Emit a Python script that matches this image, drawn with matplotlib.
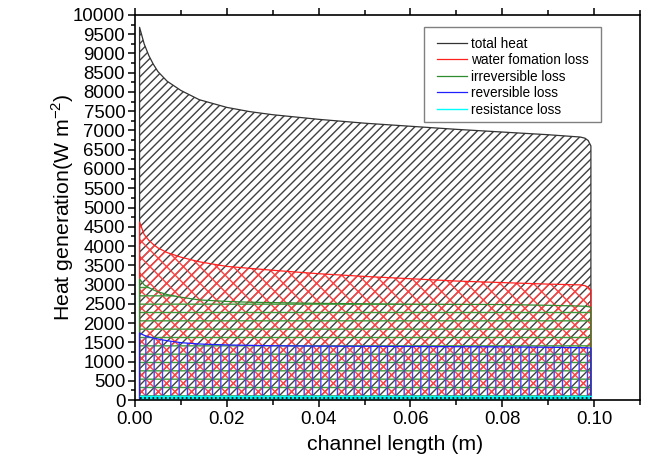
import numpy as np
import matplotlib
matplotlib.use("Agg")
import matplotlib.pyplot as plt
from matplotlib.patches import Rectangle
from matplotlib.ticker import MultipleLocator, FormatStrFormatter

plt.rcParams['font.family'] = ['Liberation Sans', 'DejaVu Sans']
plt.rcParams['mathtext.fontset'] = 'custom'
plt.rcParams['mathtext.rm'] = 'Liberation Sans'
plt.rcParams['hatch.linewidth'] = 1.0

# heat generation along the channel (W m-2)
x_pos = [0.001, 0.002, 0.003, 0.004, 0.005, 0.007, 0.010, 0.014, 0.020, 0.025, 0.030,
         0.040, 0.050, 0.060, 0.070, 0.080, 0.090, 0.097, 0.098, 0.0987, 0.0993]
total_heat = [9680, 9250, 8950, 8720, 8530, 8280, 8040, 7800, 7600, 7490, 7410,
              7290, 7190, 7110, 7030, 6960, 6890, 6830, 6800, 6740, 6600]
water_loss = [4620, 4300, 4150, 4040, 3950, 3830, 3710, 3590, 3470, 3420, 3370,
              3280, 3210, 3150, 3090, 3050, 3010, 2990, 2970, 2930, 2860]
irrev_loss = [3140, 2990, 2920, 2860, 2810, 2740, 2670, 2600, 2560, 2540, 2530,
              2510, 2500, 2490, 2485, 2480, 2460, 2440, 2435, 2425, 2410]
rev_loss = [1740, 1680, 1640, 1610, 1585, 1540, 1490, 1455, 1430, 1420, 1410,
            1400, 1395, 1390, 1385, 1380, 1370, 1360, 1358, 1355, 1350]
resist_loss = [110, 110, 110, 110, 110, 110, 110, 110, 110, 110, 110,
               110, 110, 110, 110, 110, 110, 110, 110, 110, 110]

labels = ['total heat', 'water fomation loss', 'irreversible loss',
          'reversible loss', 'resistance loss']

fig = plt.figure(figsize=(6.48, 4.57), dpi=100)
ax = fig.add_axes([0.2083, 0.1247, 0.7794, 0.8425])

x = np.array(x_pos)
series = [total_heat, water_loss, irrev_loss, rev_loss]
line_cols = ['#333333', '#ff2020', '#2e8b2e', '#2020ff']
hatch_cols = ['#404040', '#ff4040', '#3c9c3c', '#4040ff']
hatches = ['////', 'xx', '--', '||']

for vals, lc, hc, h, lab in zip(series, line_cols, hatch_cols, hatches, labels):
    y = np.array(vals)
    ax.fill_between(x, 0, y, facecolor='none', edgecolor=hc, hatch=h, linewidth=0)
    # closed outline: up the left edge, along the curve, down the right edge
    xo = np.concatenate([[x[0]], x, [x[-1]]])
    yo = np.concatenate([[0], y, [0]])
    ax.plot(xo, yo, color=lc, lw=0.9, label=lab)

r = np.array(resist_loss)
ax.fill_between(x, 0, r, facecolor='#00e5e5', edgecolor='none', linewidth=0)
ax.plot(x, r, color='#00ffff', lw=1.0, label=labels[4])
ax.plot(x, r * 0.45, color='black', lw=1.2, ls=(0, (1, 1.5)))

ax.set_xlim(0, 0.11)
ax.set_ylim(0, 10000)
ax.xaxis.set_major_locator(MultipleLocator(0.02))
ax.xaxis.set_minor_locator(MultipleLocator(0.01))
ax.yaxis.set_major_locator(MultipleLocator(500))
ax.yaxis.set_minor_locator(MultipleLocator(250))
ax.xaxis.set_major_formatter(FormatStrFormatter('%.2f'))

ax.tick_params(axis='x', which='both', direction='out', top=True, labeltop=False,
               labelsize=13.4, pad=3)
ax.tick_params(axis='x', which='major', length=5, width=1.1)
ax.tick_params(axis='x', which='minor', length=3.5, width=1.1)
ax.tick_params(axis='y', which='both', direction='out', right=False, labelsize=13.4, pad=2)
ax.tick_params(axis='y', which='major', length=5, width=1.1)
ax.tick_params(axis='y', which='minor', length=3, width=1.1)
for sp in ax.spines.values():
    sp.set_linewidth(1.2)

ax.set_xlabel('channel length (m)', fontsize=15.3, labelpad=5)
ax.xaxis.label.set_x(0.515)
ax.set_ylabel(r'Heat generation(W m$^{\mathregular{-2}}$)', fontsize=15.3, labelpad=-2)

# legend box drawn by hand so the padding can be set per side
ax.add_patch(Rectangle((0.5723, 0.7221), 0.3505, 0.2467, transform=ax.transAxes,
                       facecolor='white', edgecolor='#808080', lw=1.0, zorder=4))
leg = ax.legend(loc='upper left', bbox_to_anchor=(0.598, 0.9435), fontsize=9.8,
                frameon=False, handlelength=2.2, handletextpad=0.3,
                labelspacing=0.18, borderpad=0, borderaxespad=0)
leg.set_zorder(5)

fig.savefig('out.png', dpi=100)
